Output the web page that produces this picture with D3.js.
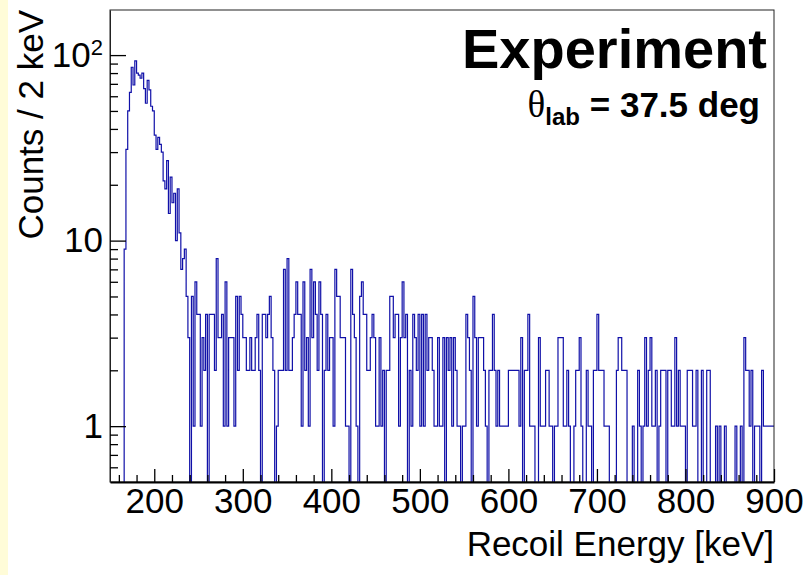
<!DOCTYPE html>
<html>
<head>
<meta charset="utf-8">
<script src="https://cdn.jsdelivr.net/npm/d3@7"></script>
<style>
  body { margin: 0; background: #fff; }
  svg { display: block; }
  text { font-family: "Liberation Sans", Arial, Helvetica, sans-serif; fill: #000; }
</style>
</head>
<body>
<svg id="chart" width="807" height="575"></svg>
<script>
// Histogram binning (keV)
const binLow = 150;
const binWidth = 2;

// Counts per 2 keV bin, starting at 150 keV
const counts = [
  0,0,0,0,0,0,0,0,
  9,31,50,63,86,69,93,80,78,75,80,66,55,73,65,53,50,37,31,36,33,30,21,19,27,14,22,16,18,10,19,11,7,8,9,
  5,3,0,5,1,6,4,4,1,3,2,4,0,4,4,4,2,8,3,3,4,1,6,1,3,3,3,1,5,2,5,4,3,3,2,2,3,2,2,3,4,2,0,4,4,3,4,5,3,2,0,1,2,2,2,
  7,2,8,2,2,3,4,6,4,4,1,6,2,3,1,7,3,6,4,2,6,4,0,2,4,2,3,3,1,7,5,5,3,3,3,1,1,0,7,4,3,1,0,5,6,4,4,2,2,3,4,3,1,1,3,1,2,0,2,2,
  5,5,3,4,4,1,3,6,3,4,0,2,1,4,3,2,4,1,4,1,4,2,3,3,2,1,1,3,1,1,3,0,3,2,3,1,3,2,1,1,0,1,1,4,3,2,0,5,3,1,3,3,3,2,1,0,2,2,
  4,2,1,2,1,1,1,1,1,2,2,2,2,2,2,1,3,0,2,2,4,1,1,1,0,0,3,1,1,1,2,2,1,1,0,1,1,3,3,3,1,1,2,1,0,0,1,2,2,3,1,0,0,2,1,1,0,2,2,
  4,2,2,2,1,1,1,0,0,0,0,2,3,3,2,2,2,0,0,0,1,0,0,2,1,0,1,3,1,2,3,1,1,2,0,1,2,2,2,0,2,2,1,1,3,1,2,1,1,1,0,2,2,2,1,1,2,0,0,
  2,0,0,2,2,0,0,0,1,0,1,0,0,1,0,0,0,0,0,1,0,0,1,0,3,2,2,1,2,0,1,1,1,0,2,1,1,1,1,1,1
];

// Axis ranges and ticks
const xRange = [150, 900];
const yRange = [0.5, 175];
const xMajorTicks = [200, 300, 400, 500, 600, 700, 800, 900];
const xMinorTicks = d3.range(160, 900, 20).filter(v => v % 100 !== 0);
const yMajorTicks = [1, 10, 100];
const yMajorLabels = [["1", ""], ["10", ""], ["10", "2"]];
const yMinorTicks = [0.6, 0.7, 0.8, 0.9, 2, 3, 4, 5, 6, 7, 8, 9, 20, 30, 40, 50, 60, 70, 80, 90];

// Texts
const xTitle = "Recoil Energy [keV]";
const yTitle = "Counts / 2 keV";
const headline = "Experiment";
const angleSymbol = "\u03B8";
const angleSub = "lab";
const angleText = " = 37.5 deg";

const W = 807, H = 575;
const frame = { left: 110, right: 774, top: 10, bottom: 482 };

const svg = d3.select("#chart");
svg.append("rect").attr("width", W).attr("height", H).attr("fill", "#ffffff");
svg.append("rect").attr("x", 0).attr("y", 0).attr("width", 8).attr("height", H).attr("fill", "#fffcd8");

const x = d3.scaleLinear().domain(xRange).range([frame.left, frame.right]);
const y = d3.scaleLog().domain(yRange).range([frame.bottom, frame.top]);

svg.append("defs").append("clipPath").attr("id", "plotClip")
  .append("rect")
  .attr("x", frame.left).attr("y", frame.top)
  .attr("width", frame.right - frame.left).attr("height", frame.bottom - frame.top);

// Step outline of the histogram; empty bins drop below the frame
const points = counts.map((c, i) => [binLow + i * binWidth, c]);
points.push([binLow + counts.length * binWidth, counts[counts.length - 1]]);
const step = d3.line()
  .x(d => x(d[0]))
  .y(d => d[1] > 0 ? y(d[1]) : frame.bottom + 3)
  .curve(d3.curveStepAfter);

svg.append("path")
  .attr("clip-path", "url(#plotClip)")
  .attr("d", step(points))
  .attr("fill", "none")
  .attr("stroke", "#1010a8")
  .attr("stroke-width", 1.2);

// Frame
svg.append("rect")
  .attr("x", frame.left).attr("y", frame.top)
  .attr("width", frame.right - frame.left).attr("height", frame.bottom - frame.top)
  .attr("fill", "none").attr("stroke", "#222").attr("stroke-width", 1);

// X axis: major ticks with labels, minor ticks without
const xAxisMajor = d3.axisBottom(x).tickValues(xMajorTicks).tickSizeInner(-13).tickSizeOuter(0).tickPadding(6).tickFormat(d3.format("d"));
const gx = svg.append("g").attr("transform", `translate(0,${frame.bottom})`).call(xAxisMajor);
gx.select(".domain").attr("stroke", "#000").attr("stroke-width", 2);
gx.selectAll(".tick line").attr("stroke", "#000").attr("stroke-width", 1.3);
gx.selectAll(".tick text").attr("font-size", 35).attr("fill", "#000");

const xAxisMinor = d3.axisBottom(x).tickValues(xMinorTicks).tickSizeInner(-7).tickSizeOuter(0).tickFormat("");
const gxm = svg.append("g").attr("transform", `translate(0,${frame.bottom})`).call(xAxisMinor);
gxm.select(".domain").remove();
gxm.selectAll(".tick line").attr("stroke", "#000").attr("stroke-width", 1.3);

// Y axis (log): decades labelled, 2..9 sub-ticks
const yAxisMajor = d3.axisLeft(y).tickValues(yMajorTicks).tickSizeInner(-16).tickSizeOuter(0).tickPadding(7).tickFormat("");
const gy = svg.append("g").attr("transform", `translate(${frame.left},0)`).call(yAxisMajor);
gy.select(".domain").attr("stroke", "#222").attr("stroke-width", 1);
gy.selectAll(".tick line").attr("stroke", "#000").attr("stroke-width", 1.3);
gy.selectAll(".tick text").each(function(d, i) {
  const t = d3.select(this).attr("font-size", 35).attr("fill", "#000").attr("dy", "0.32em");
  const [base, sup] = yMajorLabels[i];
  t.append("tspan").text(base);
  if (sup) t.append("tspan").attr("font-size", 22).attr("dy", "-0.55em").text(sup);
});

const yAxisMinor = d3.axisLeft(y).tickValues(yMinorTicks).tickSizeInner(-8).tickSizeOuter(0).tickFormat("");
const gym = svg.append("g").attr("transform", `translate(${frame.left},0)`).call(yAxisMinor);
gym.select(".domain").remove();
gym.selectAll(".tick line").attr("stroke", "#000").attr("stroke-width", 1.3);

// Axis titles
svg.append("text")
  .attr("x", frame.right).attr("y", 556)
  .attr("text-anchor", "end").attr("font-size", 35)
  .text(xTitle);

svg.append("text")
  .attr("transform", `translate(43,${frame.top}) rotate(-90)`)
  .attr("text-anchor", "end").attr("font-size", 35)
  .text(yTitle);

// Labels in the top-right corner
svg.append("text")
  .attr("x", 767).attr("y", 68)
  .attr("text-anchor", "end").attr("font-size", 56).attr("font-weight", "bold")
  .text(headline);

const angle = svg.append("text")
  .attr("x", 760).attr("y", 117)
  .attr("text-anchor", "end").attr("font-size", 35).attr("font-weight", "bold");
angle.append("tspan").attr("font-family", "'Liberation Serif', 'DejaVu Serif', serif").attr("font-weight", "normal").attr("font-size", 37).text(angleSymbol);
angle.append("tspan").attr("font-size", 24).attr("dy", 8).text(angleSub);
angle.append("tspan").attr("dy", -8).text(angleText);
</script>
</body>
</html>
